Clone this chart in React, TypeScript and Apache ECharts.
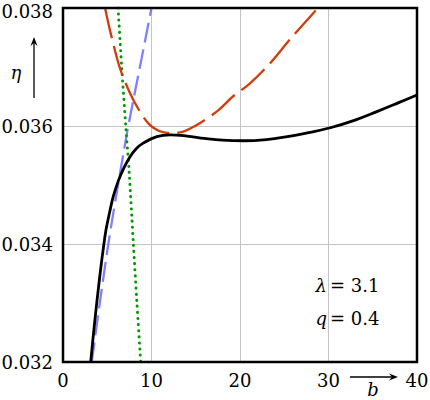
import React, { useEffect, useRef } from "react";
import * as echarts from "echarts";

// b values and eta values
const blackB = [3.13, 3.5, 3.88, 4.26, 4.56, 4.86, 5.3, 5.69, 6.25, 6.82, 7.57, 8.3, 9.07, 10.6, 12.1, 14, 16, 18, 20.5, 23, 25, 27.5, 30.2, 33, 35.4, 38, 40];
const blackEta = [0.032, 0.03256, 0.03309, 0.03358, 0.03393, 0.03424, 0.03456, 0.03481, 0.03507, 0.03527, 0.03548, 0.03562, 0.03571, 0.03582, 0.03585, 0.03583, 0.03579, 0.03576, 0.03575, 0.03577, 0.03581, 0.03588, 0.03597, 0.0361, 0.03624, 0.0364, 0.036525];

const redB = [4.75, 5.39, 6.5, 7.95, 9.6, 10.8, 12.1, 13.5, 15.5, 17.5, 19.2, 21.1, 23.5, 25.6, 28.8];
const redEta = [0.038, 0.03757, 0.03695, 0.03644, 0.03605, 0.03592, 0.03588, 0.0359, 0.03605, 0.03626, 0.0365, 0.03672, 0.03708, 0.03746, 0.038];

const blueB = [3.25, 4.26, 5.12, 5.99, 6.63, 7.25, 7.95, 9.07, 10.0];
const blueEta = [0.032, 0.03311, 0.034, 0.0348, 0.03536, 0.0359, 0.03644, 0.03729, 0.038];

const greenB = [6.22, 6.63, 7.12, 7.46, 7.95, 8.35, 8.78];
const greenEta = [0.038, 0.037, 0.03593, 0.03525, 0.034, 0.033, 0.032];

const xTicks = [0, 10, 20, 30, 40];
const yTicks = [0.032, 0.034, 0.036, 0.038];

const paramLabels = ["λ", "q"];
const paramValues = ["= 3.1", "= 0.4"];

const FONT = "DejaVu Serif, serif";
const FS = 18;

function pairs(xs: number[], ys: number[]) {
  return xs.map((x, i) => [x, ys[i]]);
}

function txt(x: number, y: number, text: string, italic: boolean, align: string) {
  return {
    type: "text",
    x,
    y,
    style: {
      text,
      fontFamily: FONT,
      fontSize: FS,
      fontStyle: italic ? "italic" : "normal",
      fill: "#000",
      align,
      verticalAlign: "middle",
    },
  };
}

export default function App() {
  const ref = useRef<HTMLDivElement>(null);
  useEffect(() => {
    if (!ref.current) return;
    const chart = echarts.init(ref.current, undefined, { renderer: "svg" });
    const yMax = yTicks[yTicks.length - 1];
    const option: any = {
      animation: false,
      backgroundColor: "#fff",
      textStyle: { fontFamily: FONT },
      grid: {
        left: 63,
        right: 13,
        top: 8,
        bottom: 38,
        containLabel: false,
        outerBoundsMode: "none",
        show: true,
        borderColor: "#000",
        borderWidth: 2.5,
        backgroundColor: "transparent",
        z: 10,
      },
      xAxis: {
        type: "value",
        min: xTicks[0],
        max: xTicks[xTicks.length - 1],
        interval: 10,
        axisLine: { show: false },
        axisTick: { show: false },
        splitLine: { show: true, lineStyle: { color: "#c4c4c4", width: 1 } },
        axisLabel: {
          margin: 9,
          fontSize: FS,
          fontFamily: FONT,
          color: "#000",
          formatter: (v: number) => String(v),
        },
      },
      yAxis: {
        type: "value",
        min: yTicks[0],
        max: yMax,
        interval: 0.002,
        axisLine: { show: false },
        axisTick: { show: false },
        splitLine: { show: true, lineStyle: { color: "#c4c4c4", width: 1 } },
        axisLabel: {
          margin: 10,
          fontSize: FS,
          lineHeight: 16,
          fontFamily: FONT,
          color: "#000",
          formatter: (v: number) =>
            Math.abs(v - yMax) < 1e-9 ? `{t|${v.toFixed(3)}}` : v.toFixed(3),
          rich: {
            t: { fontSize: FS, fontFamily: FONT, color: "#000", lineHeight: 16, padding: [6, 0, 0, 0] },
          },
        },
      },
      series: [
        {
          type: "line",
          data: pairs(blueB, blueEta),
          showSymbol: false,
          smooth: 0.3,
          clip: true,
          lineStyle: { color: "#8080ff", width: 2.3, type: [20, 7] },
        },
        {
          type: "line",
          data: pairs(greenB, greenEta),
          showSymbol: false,
          smooth: 0.3,
          clip: true,
          lineStyle: { color: "#009a00", width: 3, type: [0.1, 6], cap: "round" },
        },
        {
          type: "line",
          data: pairs(redB, redEta),
          showSymbol: false,
          smooth: 0.3,
          clip: true,
          lineStyle: { color: "#d23c0a", width: 2.3, type: [31, 8] },
        },
        {
          type: "line",
          data: pairs(blackB, blackEta),
          showSymbol: false,
          smooth: 0.4,
          clip: true,
          lineStyle: { color: "#000", width: 2.8 },
        },
      ],
      graphic: [
        { type: "line", shape: { x1: 34, y1: 98, x2: 34, y2: 42 }, style: { stroke: "#000", lineWidth: 1.3 } },
        { type: "polygon", shape: { points: [[34, 37], [30.5, 46], [34, 43], [37.5, 46]] }, style: { fill: "#000" } },
        txt(16, 72, "η", true, "center"),
        { type: "line", shape: { x1: 350, y1: 377, x2: 393, y2: 377 }, style: { stroke: "#000", lineWidth: 1.3 } },
        { type: "polygon", shape: { points: [[398, 377], [389, 373.5], [392, 377], [389, 380.5]] }, style: { fill: "#000" } },
        txt(373, 389, "b", true, "center"),
        txt(327, 285, paramLabels[0], true, "right"),
        txt(330, 285, paramValues[0], false, "left"),
        txt(327, 318, paramLabels[1], true, "right"),
        txt(330, 318, paramValues[1], false, "left"),
      ],
    };
    chart.setOption(option);
    return () => chart.dispose();
  }, []);
  return (
    <div
      ref={ref}
      style={{ position: "fixed", left: 0, top: 0, width: 430, height: 400, background: "#fff" }}
    />
  );
}
